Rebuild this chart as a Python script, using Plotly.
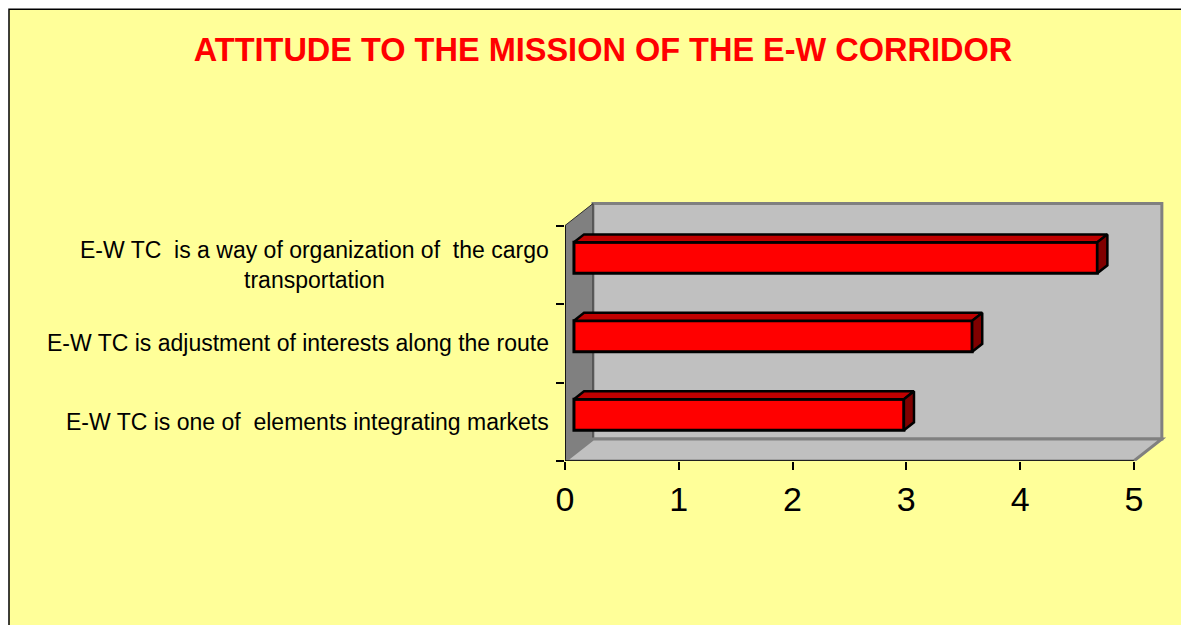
import plotly.graph_objects as go

# categories listed bottom to top, as on the chart
categories = [
    "E-W TC is one of \u00a0elements integrating markets",
    "E-W TC is adjustment of interests along the route",
    "E-W TC \u00a0is a way of organization of \u00a0the cargo<br>transportation",
]
values = [2.9, 3.5, 4.6]
x_ticks = [0, 1, 2, 3, 4, 5]

W, H = 1189, 625
OFF = 8  # page body margin the figure sits inside
ML, MR, MT, MB = 565 - OFF, 21 + OFF, 202 - OFF, 163.5 + OFF
X_RANGE = [0, 5.3]
Y_RANGE = [-0.5, 2.8]

# fake 3d: depth vector of the walls and the bars, in data units
DX, DY = 0.246, 0.28
BAR_FRONT = 0.32      # depth of bar front face (fraction of full depth)
BAR_DEPTH = 0.36      # bar thickness (fraction of full depth)
BAR_H = 0.394

x_max = x_ticks[-1]
n = len(categories)
y_lo, y_hi = -0.5, n - 0.5

fig = go.Figure()

# front faces of the bars
fig.add_trace(go.Bar(
    orientation="h",
    x=values,
    y=[i + BAR_FRONT * DY for i in range(n)],
    base=BAR_FRONT * DX,
    width=BAR_H,
    marker=dict(color="#FF0000", line=dict(color="black", width=3)),
    hoverinfo="skip",
))

# top and right faces of the bars
top_x, top_y, side_x, side_y = [], [], [], []
for i, v in enumerate(values):
    x0 = BAR_FRONT * DX
    x1 = x0 + v
    yc = i + BAR_FRONT * DY
    yt, yb = yc + BAR_H / 2, yc - BAR_H / 2
    ox, oy = BAR_DEPTH * DX, BAR_DEPTH * DY
    top_x += [x0, x1, x1 + ox, x0 + ox, x0, None]
    top_y += [yt, yt, yt + oy, yt + oy, yt, None]
    side_x += [x1, x1 + ox, x1 + ox, x1, x1, None]
    side_y += [yb, yb + oy, yt + oy, yt, yb, None]

fig.add_trace(go.Scatter(x=top_x, y=top_y, mode="lines", fill="toself",
                         fillcolor="#C00000", line=dict(color="black", width=2.5),
                         hoverinfo="skip"))
fig.add_trace(go.Scatter(x=side_x, y=side_y, mode="lines", fill="toself",
                         fillcolor="#800000", line=dict(color="black", width=2.5),
                         hoverinfo="skip"))


def path(pts):
    return "M " + " L ".join(f"{x},{y}" for x, y in pts) + " Z"


def px_x(p):
    return (p - OFF - ML) / (W - ML - MR)


def px_y(p):
    return (H - MB - (p - OFF)) / (H - MT - MB)


shapes = [
    # yellow chart area with border
    dict(type="rect", xref="paper", yref="paper", layer="below",
         x0=px_x(9), y0=px_y(H + 20), x1=px_x(W + 20), y1=px_y(8.8),
         fillcolor="#FFFF99", line=dict(color="black", width=1.5)),
    # back wall
    dict(type="rect", xref="x", yref="y", layer="below",
         x0=DX, y0=y_lo + DY, x1=x_max + DX, y1=y_hi + DY,
         fillcolor="#C0C0C0", line=dict(color="#808080", width=3)),
    # side wall
    dict(type="path", xref="x", yref="y", layer="below",
         path=path([(0, y_lo), (0, y_hi), (DX, y_hi + DY), (DX, y_lo + DY)]),
         fillcolor="#808080", line=dict(color="#303030", width=1)),
    # floor
    dict(type="path", xref="x", yref="y", layer="below",
         path=path([(0, y_lo), (x_max, y_lo), (x_max + DX, y_lo + DY), (DX, y_lo + DY)]),
         fillcolor="#C0C0C0", line=dict(color="#808080", width=3)),
    # axis lines
    dict(type="line", xref="x", yref="y", x0=0, y0=y_lo, x1=x_max, y1=y_lo,
         line=dict(color="black", width=1.5)),
    dict(type="line", xref="x", yref="y", x0=0, y0=y_lo, x1=0, y1=y_hi,
         line=dict(color="black", width=1.5)),
]

annotations = [
    dict(text=c, xref="paper", yref="y", x=0, y=i, xanchor="right", yanchor="middle",
         xshift=-14, align="center", showarrow=False,
         font=dict(family="Liberation Sans, Arial", size=23, color="black"))
    for i, c in enumerate(categories)
]

fig.update_layout(
    width=W, height=H,
    margin=dict(l=ML, r=MR, t=MT, b=MB, pad=0),
    paper_bgcolor="white",
    plot_bgcolor="rgba(0,0,0,0)",
    showlegend=False,
    title=dict(text="<b>ATTITUDE TO THE MISSION OF THE E-W CORRIDOR</b>",
               x=(603 - OFF) / W, xanchor="center", y=1 - (50 - OFF) / H, yanchor="middle",
               font=dict(family="Liberation Sans, Arial", size=32.5, color="#FF0000")),
    xaxis=dict(range=X_RANGE, tickvals=x_ticks, ticks="outside", ticklen=8,
               tickcolor="black", tickwidth=1.5, showgrid=False, zeroline=False,
               showline=False,
               tickfont=dict(family="Liberation Sans, Arial", size=34, color="black")),
    yaxis=dict(range=Y_RANGE, tickvals=[k - 0.5 for k in range(n + 1)],
               ticktext=[""] * (n + 1), ticks="outside", ticklen=8,
               tickcolor="black", tickwidth=1.5, showgrid=False, zeroline=False,
               showline=False),
    shapes=shapes,
    annotations=annotations,
)

fig.write_html("out.html")
